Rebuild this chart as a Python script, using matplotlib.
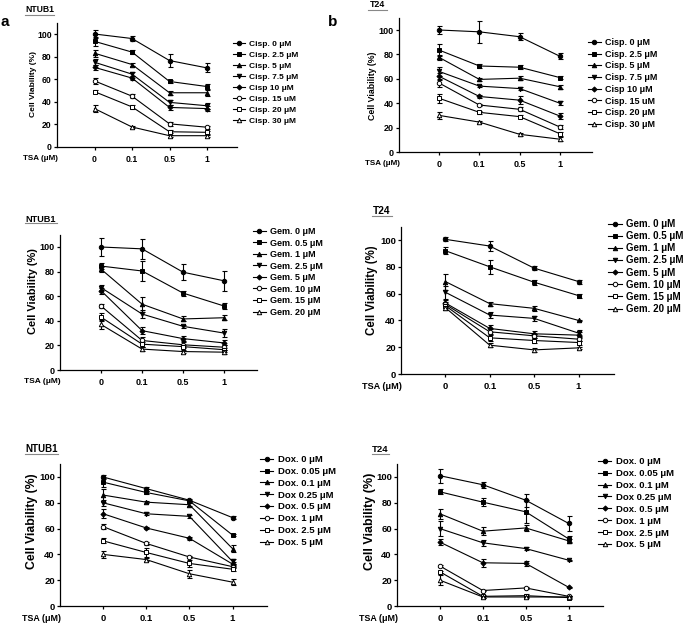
import numpy as np
import matplotlib
matplotlib.use('Agg')
import matplotlib.pyplot as plt
from matplotlib.lines import Line2D

plt.rcParams['font.family'] = ['Liberation Sans', 'DejaVu Sans']
plt.rcParams['font.weight'] = 'bold'
plt.rcParams['axes.labelweight'] = 'bold'

# ---- data ----
tsa_labels = ['0', '0.1', '0.5', '1']

cisp_labels = ['Cisp. 0 \u03bcM', 'Cisp. 2.5 \u03bcM', 'Cisp. 5 \u03bcM', 'Cisp. 7.5 \u03bcM',
               'Cisp 10 \u03bcM', 'Cisp. 15 uM', 'Cisp. 20 \u03bcM', 'Cisp. 30 \u03bcM']
gem_labels = ['Gem. 0 \u03bcM', 'Gem. 0.5 \u03bcM', 'Gem. 1 \u03bcM', 'Gem. 2.5 \u03bcM',
              'Gem. 5 \u03bcM', 'Gem. 10 \u03bcM', 'Gem. 15 \u03bcM', 'Gem. 20 \u03bcM']
dox_labels = ['Dox. 0 \u03bcM', 'Dox. 0.05 \u03bcM', 'Dox. 0.1 \u03bcM', 'Dox 0.25 \u03bcM',
              'Dox. 0.5 \u03bcM', 'Dox. 1 \u03bcM', 'Dox. 2.5 \u03bcM', 'Dox. 5 \u03bcM']

cisp_ntub1 = [[100, 96, 76.5, 70], [93.5, 84, 58, 53.5], [83, 73, 48, 48],
              [75, 64.5, 39.5, 36.5], [70.5, 61, 35, 34], [58.5, 45, 20.5, 17.5],
              [49, 35.5, 13.5, 13], [34, 17.7, 10, 10]]
cisp_ntub1_err = [[3.5, 2, 5.5, 4], [4, 2, 1.5, 2], [3, 1.5, 2, 2.5], [2.5, 1.5, 2, 2.5],
                  [2.5, 2, 2, 2.5], [3, 1.5, 1.5, 1.5], [1.5, 2, 1.5, 1.5], [3, 1, 1, 1]]

cisp_t24 = [[100, 98.5, 94.5, 78.5], [83.5, 70.5, 69.5, 61], [77.5, 59.5, 60.5, 53.5],
            [66, 54, 52, 40], [62, 45.5, 42.5, 29.5], [56.5, 38.5, 35, 20.5],
            [44, 32.5, 29, 15], [30, 24.5, 14.5, 10.5]]
cisp_t24_err = [[3.5, 9, 3, 2.5], [5, 1.5, 1.5, 1.5], [2, 1, 1.5, 1.5], [3.5, 1, 1.5, 1.5],
                [3, 1, 3, 2.5], [3, 1, 1.5, 1.5], [3.5, 1, 1, 1.5], [3, 1, 1, 1.5]]

gem_ntub1 = [[100, 98.5, 79.5, 72.5], [84.5, 80.5, 62.5, 52], [82, 53.5, 41.5, 42.5],
             [67, 45.5, 35.5, 30], [64.5, 32, 25.5, 22], [52, 24, 20.5, 18.5],
             [43, 21, 19, 16.5], [37, 17, 15, 14.5]]
gem_ntub1_err = [[7, 8, 6.5, 8], [2.5, 8, 2, 2.5], [2, 6, 2, 2], [2, 3.5, 1, 3],
                 [2.5, 3, 2, 2], [1.5, 2.5, 2, 2], [3, 2, 1.5, 1.5], [3.5, 1.5, 1.5, 1.5]]

gem_t24 = [[100.5, 95.5, 79, 69], [92, 80, 68.5, 58.5], [69, 52.5, 49, 40],
           [61, 44, 41.5, 30.5], [53, 34, 30, 29], [52, 31.5, 28.5, 26],
           [51, 27, 25, 23.5], [49.5, 21.5, 18, 19.5]]
gem_t24_err = [[1.5, 4, 1.5, 1.5], [2.5, 5, 2, 1.5], [6, 1.5, 2, 0.5], [5, 2.5, 2, 2],
               [2, 2.5, 2, 2], [1.5, 2, 1.5, 1.5], [1.5, 2, 1.5, 1.5], [1.5, 1.5, 1.5, 1]]

dox_ntub1 = [[100, 91, 82, 68.5], [96, 88, 81.5, 55], [86, 80.5, 78.5, 44.5],
             [80, 71.5, 69.5, 34.5], [71.5, 60.5, 52.5, 32.5], [61.5, 48.5, 38, 30.5],
             [50.5, 41.5, 33, 28.5], [40, 36, 25, 18.5]]
dox_ntub1_err = [[1.5, 1.5, 1, 1], [3.5, 1.5, 1, 1], [5, 1, 1, 3], [2.5, 1, 1, 2],
                 [3.5, 1, 1, 1.5], [2, 1.5, 1, 1], [2, 3.5, 2.5, 1.5], [2.5, 1.5, 3, 2.5]]

dox_t24 = [[101, 94, 82, 64], [88.5, 80.5, 73, 52], [71.5, 58, 60.5, 50.5],
           [60, 49, 44.5, 35.5], [49.5, 33.5, 33, 14.5], [31, 12, 14, 7.5],
           [26.5, 7.5, 8, 6.5], [20, 7, 7, 7]]
dox_t24_err = [[5.5, 2.5, 5, 6], [2, 3, 9, 2], [4, 3, 2, 1.5], [6, 2.5, 1, 0.5],
               [2.5, 3, 2, 0.5], [0.5, 0.5, 0.5, 0.5], [1, 1, 1, 1], [4, 1, 1, 1]]

markers = ['o', 's', '^', 'v', 'D', 'o', 's', '^']
filled = [True, True, True, True, True, False, False, False]

W, H = 685, 625


def fx(px):
    return px / W


def fy(py):
    return 1 - py / H


def draw_panel(fig, values, errors, labels, title, p):
    """p: layout in figure pixels"""
    x0, x1, ybase, ppu = p['x0'], p['x1'], p['ybase'], p['ppu']
    ytop = ybase - ppu * 110
    ax = fig.add_axes([fx(x0), fy(ybase), fx(x1 - x0), (ybase - ytop) / H])
    xs = np.arange(len(tsa_labels))
    for vals, errs, lab, m, f in zip(values, errors, labels, markers, filled):
        ms = 2.6 if m == 'D' else 3.2
        ax.errorbar(xs, vals, yerr=errs, fmt='none', ecolor='black', elinewidth=0.8,
                    capsize=1.8, capthick=0.8)
        ax.plot(xs, vals, color='black', lw=0.8, marker=m, markersize=ms,
                markerfacecolor='black' if f else 'white', markeredgecolor='black',
                markeredgewidth=0.7, label=lab)
    ax.set_xlim(-1, 3.8)
    ax.set_ylim(0, 110)
    ax.set_yticks([0, 20, 40, 60, 80, 100])
    ax.set_xticks(xs)
    ax.set_xticklabels(tsa_labels)
    for s in ['top', 'right']:
        ax.spines[s].set_visible(False)
    for s in ['left', 'bottom']:
        ax.spines[s].set_linewidth(0.9)
    ax.tick_params(axis='both', direction='out', length=2.5, width=0.9,
                   labelsize=p['tick_fs'])
    ax.tick_params(axis='x', pad=3.5)
    ax.tick_params(axis='y', pad=1.2)
    for t in ax.get_xticklabels() + ax.get_yticklabels():
        t.set_fontweight('bold')
    ax.set_ylabel('Cell Viability (%)', fontsize=p['ylab_fs'], fontweight='bold')
    ax.yaxis.set_label_coords(-p['ylab_dx'] / (x1 - x0), p['ylab_y'])
    ax.annotate('TSA (\u03bcM)', xy=(0, 0), xycoords='axes fraction', xytext=(0.5, -6.0),
                textcoords='offset points', ha='right', va='top',
                fontsize=p['tsa_fs'], fontweight='bold')
    # title with underline
    tx0, tx1, ty, uy = p['title']
    fig.text(fx((tx0 + tx1) / 2), fy(ty), title, ha='center', va='center',
             fontsize=p['title_fs'], fontweight='bold')
    fig.add_artist(Line2D([fx(tx0), fx(tx1)], [fy(uy), fy(uy)], color='#888888', lw=0.8))
    # legend
    lx, ly = p['legend']
    ax.legend(loc='upper left', bbox_to_anchor=(fx(lx), fy(ly)), bbox_transform=fig.transFigure,
              frameon=False, borderpad=0, borderaxespad=0, numpoints=1,
              handlelength=1.4, handletextpad=0.5, labelspacing=p['lab_sp'],
              prop={'size': p['leg_fs'], 'weight': 'bold'})
    return ax


fig = plt.figure(figsize=(6.85, 6.25), dpi=100)

panels = [
    (cisp_ntub1, cisp_ntub1_err, cisp_labels, 'NTUB1',
     dict(x0=57, x1=237, ybase=147, ppu=1.13, tick_fs=6.2, ylab_fs=6.0, ylab_dx=20, ylab_y=0.51,
          tsa_fs=5.8, title=(25, 54, 10, 15), title_fs=6.2, legend=(233, 40.5), leg_fs=6.0, lab_sp=0.37)),
    (cisp_t24, cisp_t24_err, cisp_labels, 'T24',
     dict(x0=399, x1=592, ybase=152, ppu=1.22, tick_fs=6.5, ylab_fs=6.3, ylab_dx=22, ylab_y=0.49,
          tsa_fs=5.8, title=(368, 387, 4.5, 10), title_fs=6.4, legend=(588, 38), leg_fs=6.5, lab_sp=0.30)),
    (gem_ntub1, gem_ntub1_err, gem_labels, 'NTUB1',
     dict(x0=60, x1=257, ybase=370, ppu=1.23, tick_fs=6.5, ylab_fs=7.9, ylab_dx=22, ylab_y=0.58,
          tsa_fs=6.0, title=(25, 57, 219, 223.5), title_fs=6.6, legend=(253, 227), leg_fs=6.5, lab_sp=0.28)),
    (gem_t24, gem_t24_err, gem_labels, 'T24',
     dict(x0=401, x1=614, ybase=374, ppu=1.34, tick_fs=6.8, ylab_fs=8.3, ylab_dx=23, ylab_y=0.57,
          tsa_fs=6.6, title=(372, 392, 211, 215.5), title_fs=7.3, legend=(608, 219), leg_fs=7.0, lab_sp=0.22)),
    (dox_ntub1, dox_ntub1_err, dox_labels, 'NTUB1',
     dict(x0=60, x1=267, ybase=606, ppu=1.29, tick_fs=6.8, ylab_fs=8.8, ylab_dx=21.5, ylab_y=0.6,
          tsa_fs=6.4, title=(25, 58, 449, 454), title_fs=7.0, legend=(260, 455), leg_fs=6.8, lab_sp=0.30)),
    (dox_t24, dox_t24_err, dox_labels, 'T24',
     dict(x0=397, x1=603, ybase=606, ppu=1.29, tick_fs=6.8, ylab_fs=9.0, ylab_dx=21.5, ylab_y=0.6,
          tsa_fs=6.4, title=(372, 389, 449, 454), title_fs=6.8, legend=(598, 457), leg_fs=6.8, lab_sp=0.31)),
]

for vals, errs, labs, title, layout in panels:
    draw_panel(fig, vals, errs, labs, title, layout)

fig.text(fx(0.5), fy(22), 'a', fontsize=11, fontweight='bold', va='center', ha='left')
fig.text(fx(328), fy(22), 'b', fontsize=11, fontweight='bold', va='center', ha='left')

fig.savefig('out.png', dpi=100)
